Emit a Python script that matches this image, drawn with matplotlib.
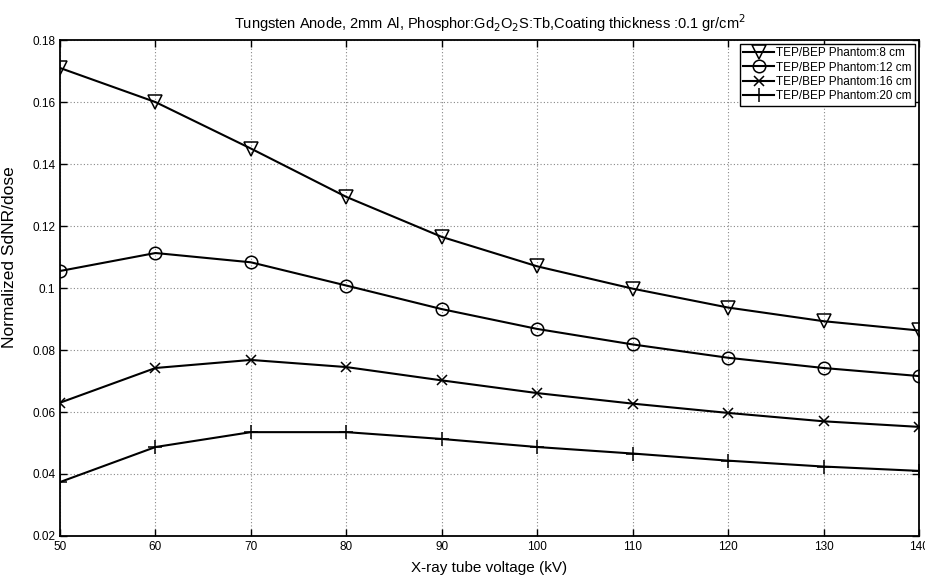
import matplotlib
matplotlib.use("Agg")
import matplotlib.pyplot as plt

kv = [50, 60, 70, 80, 90, 100, 110, 120, 130, 140]
phantom_8 = [0.171, 0.160, 0.145, 0.1294, 0.1165, 0.1070, 0.0998, 0.0937, 0.0893, 0.0863]
phantom_12 = [0.1055, 0.1113, 0.1083, 0.1008, 0.0932, 0.0868, 0.0818, 0.0775, 0.0742, 0.0716]
phantom_16 = [0.0630, 0.0742, 0.0768, 0.0745, 0.0702, 0.0661, 0.0627, 0.0597, 0.0570, 0.0552]
phantom_20 = [0.0374, 0.0487, 0.0535, 0.0535, 0.0513, 0.0487, 0.0466, 0.0443, 0.0424, 0.0410]
labels = ["TEP/BEP Phantom:8 cm", "TEP/BEP Phantom:12 cm",
          "TEP/BEP Phantom:16 cm", "TEP/BEP Phantom:20 cm"]

plt.rcParams['font.family'] = ['Liberation Sans', 'DejaVu Sans']
fig = plt.figure(figsize=(9.25, 5.81), dpi=100)
ax = fig.add_axes([0.0649, 0.0775, 0.9286, 0.8535])

series = [phantom_8, phantom_12, phantom_16, phantom_20]
markers = ['v', 'o', 'x', '+']
sizes = [9.5, 9, 7, 10]
for s, m, ms, lab in zip(series, markers, sizes, labels):
    ax.plot(kv, s, color='black', lw=1.5, marker=m, markersize=ms,
            markerfacecolor='none', markeredgecolor='black', markeredgewidth=1.1,
            label=lab)

ax.set_xlim(50, 140)
ax.set_ylim(0.02, 0.18)
ax.set_xticks(kv)
ax.set_yticks([0.02, 0.04, 0.06, 0.08, 0.1, 0.12, 0.14, 0.16, 0.18])
ax.set_yticklabels(['0.02', '0.04', '0.06', '0.08', '0.1', '0.12', '0.14', '0.16', '0.18'])
ax.tick_params(direction='in', length=5, labelsize=8.5, top=True, right=True, width=1)
ax.grid(True, linestyle=(0, (1, 2)), color='#888888', linewidth=0.8)
for sp in ax.spines.values():
    sp.set_linewidth(1.3)

ax.set_xlabel('X-ray tube voltage (kV)', fontsize=11, labelpad=6)
ax.set_ylabel('Normalized SdNR/dose', fontsize=12.5, labelpad=6)
ax.yaxis.set_label_coords(-0.05, 0.5625)
ax.set_title(r'Tungsten Anode, 2mm Al, Phosphor:Gd$_2$O$_2$S:Tb,Coating thickness :0.1 gr/cm$^2$',
             fontsize=10.5, pad=8)

leg = ax.legend(loc='upper right', fontsize=8.5, frameon=True, fancybox=False,
                edgecolor='black', borderaxespad=0.3, handlelength=2.6,
                labelspacing=0.2, handletextpad=0.2, borderpad=0.3,
                framealpha=1)
leg.get_frame().set_linewidth(1.0)

fig.savefig('out.png', dpi=100)
